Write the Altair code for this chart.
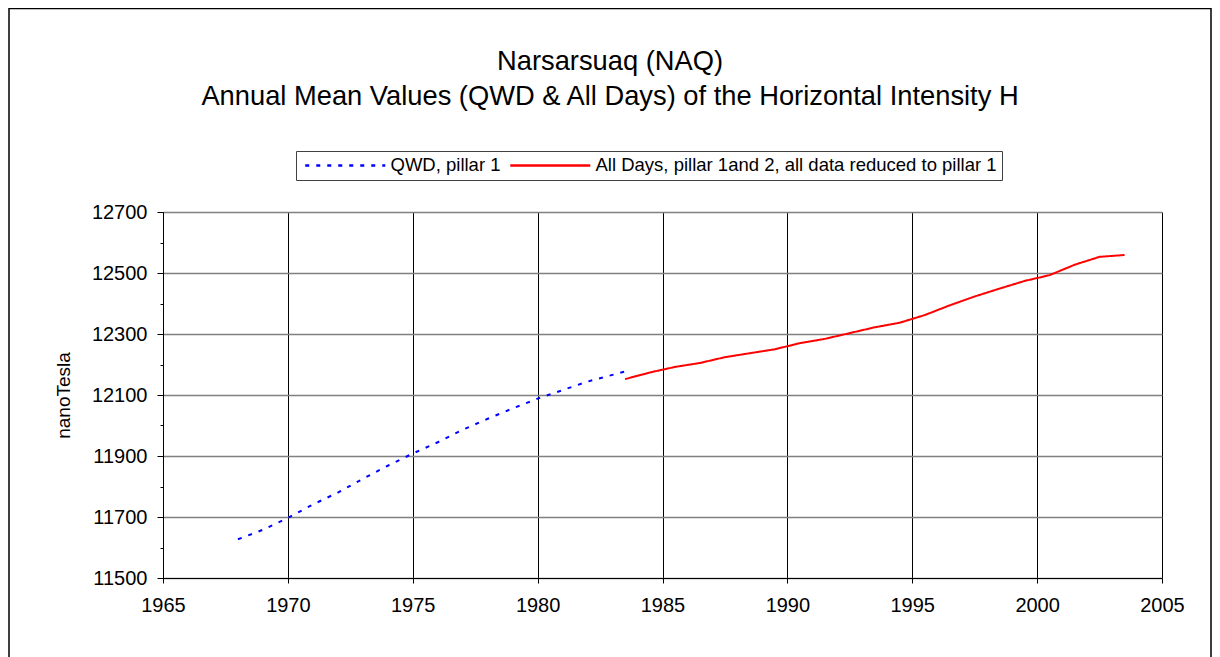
import altair as alt
import pandas as pd

# ---- data ----
series_names = ["QWD, pillar 1", "All Days, pillar 1and 2, all data reduced to pillar 1"]

qwd_years = [1968, 1969, 1970, 1971, 1972, 1973, 1974, 1975, 1976, 1977,
             1978, 1979, 1980, 1981, 1982, 1983, 1983.5]
qwd_values = [11627, 11658, 11697, 11741, 11780, 11825, 11868, 11908, 11945, 11986,
              12022, 12056, 12088, 12116, 12144, 12166, 12177]

all_years = [1983.5, 1984.5, 1985.5, 1986.5, 1987.5, 1988.5, 1989.5, 1990.5, 1991.5,
             1992.5, 1993.5, 1994.5, 1995.5, 1996.5, 1997.5, 1998.5, 1999.5, 2000.5,
             2001.5, 2002.5, 2003.5]
all_values = [12152, 12174, 12192, 12205, 12224, 12237, 12250, 12270, 12284,
              12303, 12322, 12337, 12362, 12394, 12423, 12449, 12474, 12493,
              12527, 12553, 12559]

x_ticks = [1965, 1970, 1975, 1980, 1985, 1990, 1995, 2000, 2005]
y_ticks = [11500, 11600, 11700, 11800, 11900, 12000, 12100, 12200,
           12300, 12400, 12500, 12600, 12700]

title_line1 = "Narsarsuaq (NAQ)"
title_line2 = "Annual Mean Values (QWD & All Days) of the Horizontal Intensity H"
y_title = "nanoTesla"

rows = []
for yr, v in zip(qwd_years, qwd_values):
    rows.append({"year": yr, "value": v, "series": series_names[0]})
for yr, v in zip(all_years, all_values):
    rows.append({"year": yr, "value": v, "series": series_names[1]})
df = pd.DataFrame(rows)

FONT = "Liberation Sans"

legend = alt.Legend(
    title=None, orient="none", legendX=133, legendY=-61, direction="horizontal",
    symbolType="M-1,0H15", symbolSize=100, symbolStrokeWidth=2.5,
    labelFont=FONT, labelFontSize=18.5, labelColor="black", labelOffset=71,
    columnPadding=4, padding=5, strokeColor="#404040", fillColor="white",
    labelLimit=0,
)

x_axis = alt.Axis(
    values=x_ticks, format="d", title=None, grid=True, gridColor="black",
    gridWidth=1, domainColor="black", tickColor="black", tickSize=5,
    labelFont=FONT, labelFontSize=20, labelColor="black", labelPadding=12,
    labelFlush=False, labelOverlap=False,
)
y_axis = alt.Axis(
    values=y_ticks, format="d", title=y_title, grid=True, gridColor="#808080",
    gridWidth=1.5,
    gridOpacity={"condition": {"test": "datum.value % 200 == 0", "value": 0}, "value": 1},
    tickSize={"condition": {"test": "datum.value % 200 == 0", "value": 3}, "value": 6},
    labelExpr="datum.value % 200 == 100 ? datum.label : ''",
    domainColor="black", tickColor="black",
    labelFont=FONT, labelFontSize=20, labelColor="black", labelPadding=10,
    labelFlush=False, labelOverlap=False,
    titleFont=FONT, titleFontSize=19, titleFontWeight="normal", titleColor="black",
    titleX=-100, titleY=183, titleAngle=270, titleAlign="center", titleBaseline="middle",
)

lines = alt.Chart(df).mark_line(strokeWidth=2).encode(
    x=alt.X("year:Q", scale=alt.Scale(domain=[1965, 2005], nice=False, zero=False), axis=x_axis),
    y=alt.Y("value:Q", scale=alt.Scale(domain=[11500, 12700], nice=False, zero=False), axis=y_axis),
    color=alt.Color("series:N", scale=alt.Scale(domain=series_names, range=["#0000FF", "#FF0000"]),
                    legend=legend),
    strokeDash=alt.StrokeDash("series:N", scale=alt.Scale(domain=series_names, range=[[4, 7], [1, 0]]),
                              legend=legend),
)

one = alt.Data(values=[{"k": 1}])

border = alt.Chart(one).mark_rect(
    filled=False, stroke="black", strokeWidth=1.5, clip=False
).encode(
    x=alt.value(-154), x2=alt.value(1048), y=alt.value(-203.5), y2=alt.value(470)
)

t1 = alt.Chart(one).mark_text(
    text=title_line1, font=FONT, fontSize=27.3, color="black",
    align="center", baseline="alphabetic", clip=False
).encode(x=alt.value(447), y=alt.value(-142))

t2 = alt.Chart(one).mark_text(
    text=title_line2, font=FONT, fontSize=27.3, color="black",
    align="center", baseline="alphabetic", clip=False
).encode(x=alt.value(447), y=alt.value(-107))

chart = alt.layer(border, t1, t2, lines).properties(
    width=999, height=366,
    padding={"left": 155, "top": 204, "right": 50, "bottom": 79},
    autosize=alt.AutoSizeParams(type="none"),
).configure_view(stroke=None).configure(background="white")

chart.save("out.html", embed_options={"renderer": "svg", "actions": False})
